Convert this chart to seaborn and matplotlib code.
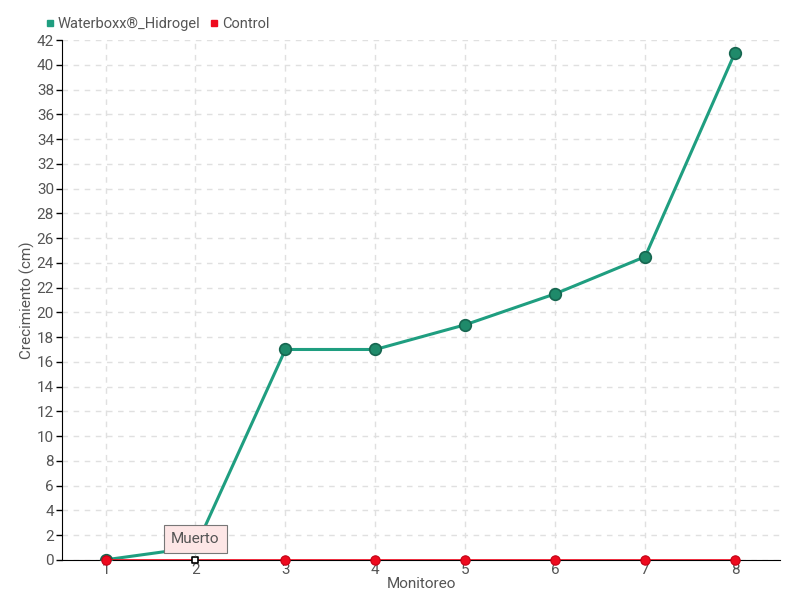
import pandas as pd
import seaborn as sns
import matplotlib.pyplot as plt
from matplotlib.lines import Line2D

monitoreo = [1, 2, 3, 4, 5, 6, 7, 8]
waterboxx = [0, 1, 17, 17, 19, 21.5, 24.5, 41]
control = [0, 0, 0, 0, 0, 0, 0, 0]
series_names = ['Waterboxx®_Hidrogel', 'Control']
muerto_idx = 1  # control plant marked "Muerto" at monitoreo 2

df = pd.DataFrame({'Monitoreo': monitoreo * 2,
                   'Crecimiento': waterboxx + control,
                   'serie': [series_names[0]] * 8 + [series_names[1]] * 8})

sns.set_style('white')
plt.rcParams['font.family'] = ['Roboto', 'DejaVu Sans']

fig, ax = plt.subplots(figsize=(8, 6), dpi=100)
fig.subplots_adjust(left=0.078, right=0.975, top=0.933, bottom=0.067)

green = '#1f9e80'
red = '#ee0a1e'
txt = '#555555'

sns.lineplot(data=df[df['serie'] == series_names[0]], x='Monitoreo', y='Crecimiento',
             color=green, lw=2.2, ax=ax, legend=False, zorder=3)
ax.scatter(monitoreo, waterboxx, s=70, color='#1f8a6a', edgecolor='#166650', lw=1.2, zorder=4)

sns.lineplot(data=df[df['serie'] == series_names[1]], x='Monitoreo', y='Crecimiento',
             color=red, lw=1.2, ax=ax, legend=False, zorder=5)
normal = [i for i in range(len(monitoreo)) if i != muerto_idx]
ax.scatter([monitoreo[i] for i in normal], [control[i] for i in normal],
           s=45, color=red, edgecolor='#c40015', lw=0.8, zorder=6, clip_on=False)
ax.scatter([monitoreo[muerto_idx]], [control[muerto_idx]], marker='s', s=22,
           color='white', edgecolor='black', lw=1.2, zorder=7, clip_on=False)

ax.annotate('Muerto', xy=(monitoreo[muerto_idx], control[muerto_idx] + 0.3),
            xytext=(monitoreo[muerto_idx], 1.7), ha='center', va='center',
            fontsize=11, color=txt,
            bbox=dict(boxstyle='square,pad=0.45', fc='#fde6e6', ec='#777777', lw=0.8),
            arrowprops=dict(arrowstyle='-', color='#777777', lw=0.6), zorder=8)

ax.set_xlim(0.52, 8.5)
ax.set_ylim(0, 42)
ax.set_xticks(monitoreo)
ax.set_yticks(range(0, 43, 2))
ax.grid(True, color='#e0e0e0', ls=(0, (4, 4)), lw=1)
ax.set_axisbelow(True)
for s in ['top', 'right']:
    ax.spines[s].set_visible(False)
ax.spines['left'].set_color('black')
ax.spines['bottom'].set_color('black')
ax.tick_params(axis='y', length=4, width=1, color='black', labelsize=11, labelcolor=txt, left=True, pad=2)
ax.tick_params(axis='x', length=0, labelsize=11, labelcolor=txt, pad=2)
ax.set_xlabel('Monitoreo', fontsize=11, color=txt, labelpad=0)
ax.set_ylabel('Crecimiento (cm)', fontsize=11, color=txt, labelpad=1)

handles = [Line2D([], [], marker='s', ls='', color=green, markersize=5),
           Line2D([], [], marker='s', ls='', color=red, markersize=5)]
ax.legend(handles, series_names, loc='lower left', bbox_to_anchor=(-0.05, 1.0), ncol=2,
          frameon=False, fontsize=10.5, handletextpad=-0.5, columnspacing=0.0,
          labelcolor=txt, borderaxespad=0.2)

fig.savefig('out.png', dpi=100)
